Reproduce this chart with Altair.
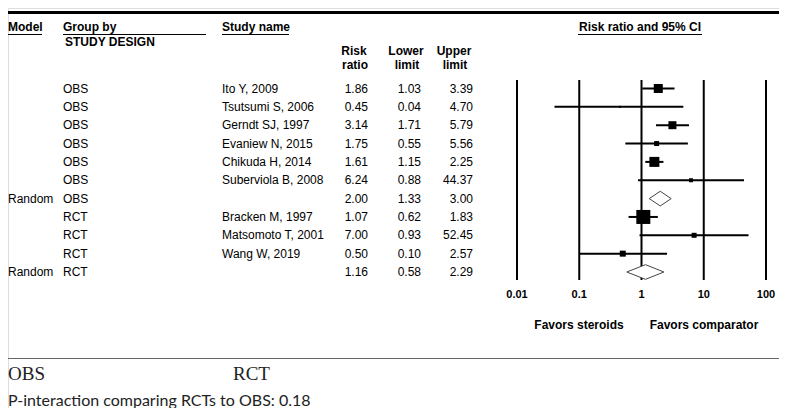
import altair as alt
import pandas as pd

# ---------------- data ----------------
models = ["", "", "", "", "", "", "Random", "", "", "", "Random"]
groups = ["OBS", "OBS", "OBS", "OBS", "OBS", "OBS", "OBS", "RCT", "RCT", "RCT", "RCT"]
studies = ["Ito Y, 2009", "Tsutsumi S, 2006", "Gerndt SJ, 1997", "Evaniew N, 2015",
           "Chikuda H, 2014", "Suberviola B, 2008", "", "Bracken M, 1997",
           "Matsomoto T, 2001", "Wang W, 2019", ""]
risk_ratio = [1.86, 0.45, 3.14, 1.75, 1.61, 6.24, 2.00, 1.07, 7.00, 0.50, 1.16]
lower_limit = [1.03, 0.04, 1.71, 0.55, 1.15, 0.88, 1.33, 0.62, 0.93, 0.10, 0.58]
upper_limit = [3.39, 4.70, 5.79, 5.56, 2.25, 44.37, 3.00, 1.83, 52.45, 2.57, 2.29]
rel_weight = [81, 4, 64, 25, 100, 16, 0, 196, 25, 36, 0]
tick_values = [0.01, 0.1, 1, 10, 100]
tick_labels = ["0.01", "0.1", "1", "10", "100"]

FONT = "Liberation Sans"
W, H = 771, 400

rows = list(range(len(studies)))
df = pd.DataFrame({
    "idx": rows, "model": models, "group": groups, "study": studies,
    "rr": risk_ratio, "lo": lower_limit, "hi": upper_limit, "w": rel_weight,
})
df["rr_t"] = df["rr"].map(lambda v: f"{v:.2f}")
df["lo_t"] = df["lo"].map(lambda v: f"{v:.2f}")
df["hi_t"] = df["hi"].map(lambda v: f"{v:.2f}")
df["summary"] = df["model"] == "Random"

studies_df = df[~df["summary"]]
summ = df[df["summary"]]
HALF = 0.4
dia = []
for i, r in zip(summ["idx"].tolist(), summ.itertuples()):
    dia.append({"grp": f"d{i}", "xv": float(r.lo), "ytop": i, "ybot": i})
    dia.append({"grp": f"d{i}", "xv": float(r.rr), "ytop": i - HALF, "ybot": i + HALF})
    dia.append({"grp": f"d{i}", "xv": float(r.hi), "ytop": i, "ybot": i})
dia_df = pd.DataFrame(dia)

ticks_df = pd.DataFrame({"v": tick_values, "lab": tick_labels})

xs = alt.Scale(type="log", domain=[0.01, 100], range=[509, 758], nice=False)
ys = alt.Scale(domain=[0, 10], range=[80.5, 264], zero=False, nice=False)


def Y(f="idx"):
    return alt.Y(f + ":Q", scale=ys, axis=None)


def X(f):
    return alt.X(f + ":Q", scale=xs, axis=None)


layers = []

# top thick line
layers.append(alt.Chart(pd.DataFrame({"b": [1]})).mark_rect(color="black", opacity=1).encode(
    x=alt.value(0), x2=alt.value(W), y=alt.value(3), y2=alt.value(6)))

# vertical reference lines
layers.append(alt.Chart(ticks_df).mark_rule(color="black", strokeWidth=2).encode(
    x=X("v"), y=alt.value(72), y2=alt.value(272)))

# tick labels
layers.append(alt.Chart(ticks_df).mark_text(font=FONT, fontSize=11, fontWeight="bold",
                                            baseline="middle", align="center", color="black").encode(
    x=X("v"), y=alt.value(287), text="lab:N"))

# confidence intervals
layers.append(alt.Chart(studies_df).mark_rule(color="black", strokeWidth=2).encode(
    x=X("lo"), x2="hi:Q", y=Y()))

# squares
layers.append(alt.Chart(studies_df).mark_square(color="black", opacity=1, filled=True).encode(
    x=X("rr"), y=Y(),
    size=alt.Size("w:Q", scale=alt.Scale(domain=[0, 196], range=[0, 196]), legend=None)))

# diamonds
layers.append(alt.Chart(dia_df).mark_area(fill="white", stroke="#444444", strokeWidth=1,
                                          interpolate="linear", opacity=1, orient="vertical").encode(
    x=X("xv"), y=Y("ytop"), y2="ybot:Q", detail="grp:N"))

# table text
def col(field, xpos, align="left"):
    return alt.Chart(df).mark_text(font=FONT, fontSize=12, align=align, baseline="middle",
                                   color="black").encode(
        x=alt.value(xpos), y=Y(), text=field + ":N")

layers += [col("model", 0), col("group", 55), col("study", 214),
           col("rr_t", 360, "right"), col("lo_t", 413, "right"), col("hi_t", 465, "right")]

# headers
header_items = [
    ("Model", 0, 19, "left"), ("Group by", 55, 19, "left"), ("STUDY DESIGN", 57, 34, "left"),
    ("Study name", 214, 19, "left"),
    ("Risk", 346, 43, "center"), ("ratio", 347, 57, "center"),
    ("Lower", 398, 43, "center"), ("limit", 399, 57, "center"),
    ("Upper", 446, 43, "center"), ("limit", 447, 57, "center"),
    ("Risk ratio and 95% CI", 632, 19, "center"),
    ("Favors steroids", 571, 317, "center"), ("Favors comparator", 696, 317, "center"),
]
for t, xp, yp, al in header_items:
    layers.append(alt.Chart(pd.DataFrame({"t": [t]})).mark_text(
        font=FONT, fontSize=12, fontWeight="bold", align=al, baseline="middle", color="black").encode(
        x=alt.value(xp), y=alt.value(yp), text="t:N"))

# header underlines
for x1, x2 in [(0, 34), (55, 198), (214, 281), (570, 694)]:
    layers.append(alt.Chart(pd.DataFrame({"a": [0]})).mark_rule(color="black", strokeWidth=1).encode(
        x=alt.value(x1), x2=alt.value(x2), y=alt.value(26.5)))

# bottom separator
layers.append(alt.Chart(pd.DataFrame({"a": [0]})).mark_rule(color="#666666", strokeWidth=1).encode(
    x=alt.value(0), x2=alt.value(W), y=alt.value(350.5)))

# bottom texts
for t, xp, yp, fnt, fs in [("OBS", 0, 366, "Liberation Serif", 19), ("RCT", 225, 366, "Liberation Serif", 19),
                           ("P-interaction comparing RCTs to OBS: 0.18", 0, 393, "Lato", 16)]:
    layers.append(alt.Chart(pd.DataFrame({"t": [t]})).mark_text(
        font=fnt, fontSize=fs, align="left", baseline="middle", color="#222222").encode(
        x=alt.value(xp), y=alt.value(yp), text="t:N"))

chart = alt.layer(*layers).properties(
    width=W, height=H, padding=0, autosize=alt.AutoSizeParams(type="none")
).configure_view(stroke=None).configure(background="white")

chart.save("out.html", embed_options={"renderer": "svg", "actions": False})
